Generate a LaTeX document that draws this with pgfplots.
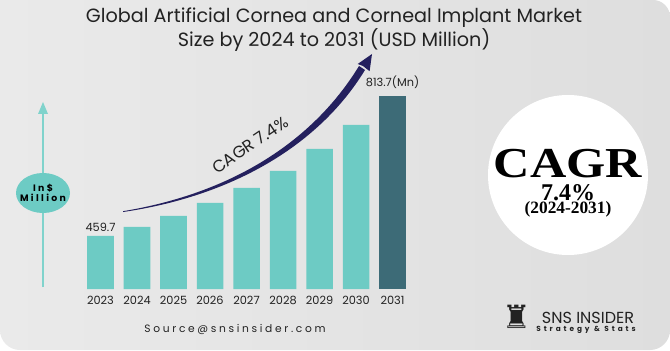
\documentclass[border=0pt]{standalone}
\usepackage{pgfplots}
\pgfplotsset{compat=1.18}
\usepackage{fontspec}
\setmainfont{Poppins}
\newfontfamily\serifb{Liberation Serif}[BoldFont={Liberation Serif Bold}]
\newfontfamily\symf{DejaVu Sans}
\definecolor{tealbar}{HTML}{6DCBC4}
\definecolor{darkbar}{HTML}{3D6B77}
\definecolor{tealline}{HTML}{80D3CC}
\definecolor{navy}{HTML}{24205E}
\definecolor{txt}{HTML}{222222}
\definecolor{bgl}{HTML}{EAEAEA}
\definecolor{bgr}{HTML}{DEDEDE}
\begin{document}
\begin{tikzpicture}[x=0.75pt,y=0.75pt]
\useasboundingbox (0,0) rectangle (670,350);
\fill[white] (0,0) rectangle (670,350);
\shade[left color=bgl,right color=bgr] (0,350) -- (653,350) arc[start angle=90,end angle=0,radius=12.75pt] -- (670,20) arc[start angle=0,end angle=-90,radius=15pt] -- (20,0) arc[start angle=270,end angle=180,radius=15pt] -- cycle;

% title
\node[font=\fontsize{14.4}{16}\selectfont,text=txt,inner sep=0pt] at (334,332) {Global Artificial Cornea and Corneal Implant Market};
\node[font=\fontsize{14.4}{16}\selectfont,text=txt,inner sep=0pt] at (334,310) {Size by 2024 to 2031 (USD Million)};

% y-axis arrow and ellipse
\draw[tealline,line width=1.5pt] (43,63) -- (43,240);
\fill[tealline] (43,248) -- (38,236) -- (48,236) -- cycle;
\fill[tealbar] (43,157) ellipse[x radius=20.25pt,y radius=15pt];
\node[font=\bfseries\fontsize{7}{8}\selectfont\addfontfeatures{LetterSpace=25},align=center,text=black] at (43,157) {In\$\\[-1pt]Million};

\begin{axis}[at={(61.69pt,45.75pt)},anchor=south west,
  width=246.4pt,height=170.4pt,scale only axis,
  xmin=-0.5,xmax=8.5,ymin=325.7,ymax=900,
  axis line style={draw=none},ytick=\empty,
  xtick={0,1,2,3,4,5,6,7,8},
  xticklabels={2023,2024,2025,2026,2027,2028,2029,2030,2031},
  major tick length=0pt,
  xticklabel style={font=\fontsize{8.5}{10}\selectfont,text=txt,yshift=-2pt},
  ybar,bar width=19.9pt,clip mode=individual]
\addplot[fill=tealbar,draw=none,bar shift=0pt] coordinates {(0,459.7)(1,482.5)(2,510.3)(3,543.1)(4,581.1)(5,624.0)(6,679.7)(7,740.4)};
\addplot[fill=darkbar,draw=none,bar shift=0pt] coordinates {(8,813.7)};
\node[font=\fontsize{8.5}{10}\selectfont,text=txt,above,inner sep=1pt,yshift=2pt] at (axis cs:0,459.7) {459.7};
\node[font=\fontsize{8.5}{10}\selectfont,text=txt,above,inner sep=1pt,yshift=4pt] at (axis cs:8,813.7) {813.7(Mn)};
\end{axis}

% CAGR arrow
\fill[navy] (123,138) .. controls (230,153.5) and (318,203) .. (365,280)
  -- (359,284) .. controls (312,207) and (230,156.5) .. (123,138.8) -- cycle;
\fill[navy] (372,296) -- (369.6,278.8) -- (363,284) -- (357.7,286) -- cycle;
\node[font=\fontsize{12.5}{14}\selectfont,text=txt,rotate=34,inner sep=0pt] at (250,205) {CAGR 7.4\%};

% circle
\fill[white] (568,175) circle[radius=60pt];
\node[font=\serifb\bfseries\fontsize{32}{32}\selectfont,text=black,inner sep=0pt] at (568,186) {\scalebox{1.18}[1]{CAGR}};
\node[font=\serifb\bfseries\fontsize{18}{18}\selectfont,text=black,inner sep=0pt] at (568,157) {7.4\%};
\node[font=\serifb\bfseries\fontsize{13}{13}\selectfont,text=black,inner sep=0pt] at (568,141) {(2024-2031)};

% logo
\node[font=\symf\fontsize{24}{26}\selectfont,text=txt,inner sep=0pt] at (517,33) {♜};
\node[font=\fontsize{12}{14}\selectfont,text=txt,inner sep=0pt] at (588,32) {SNS INSIDER};
\node[font=\bfseries\fontsize{5.5}{6}\selectfont\addfontfeatures{LetterSpace=40},text=txt,inner sep=0pt] at (586,20) {Strategy \& Stats};

% source
\node[font=\fontsize{8}{10}\selectfont\addfontfeatures{LetterSpace=25},text=txt,inner sep=0pt] at (235,20) {Source@snsinsider.com};
\end{tikzpicture}
\end{document}
